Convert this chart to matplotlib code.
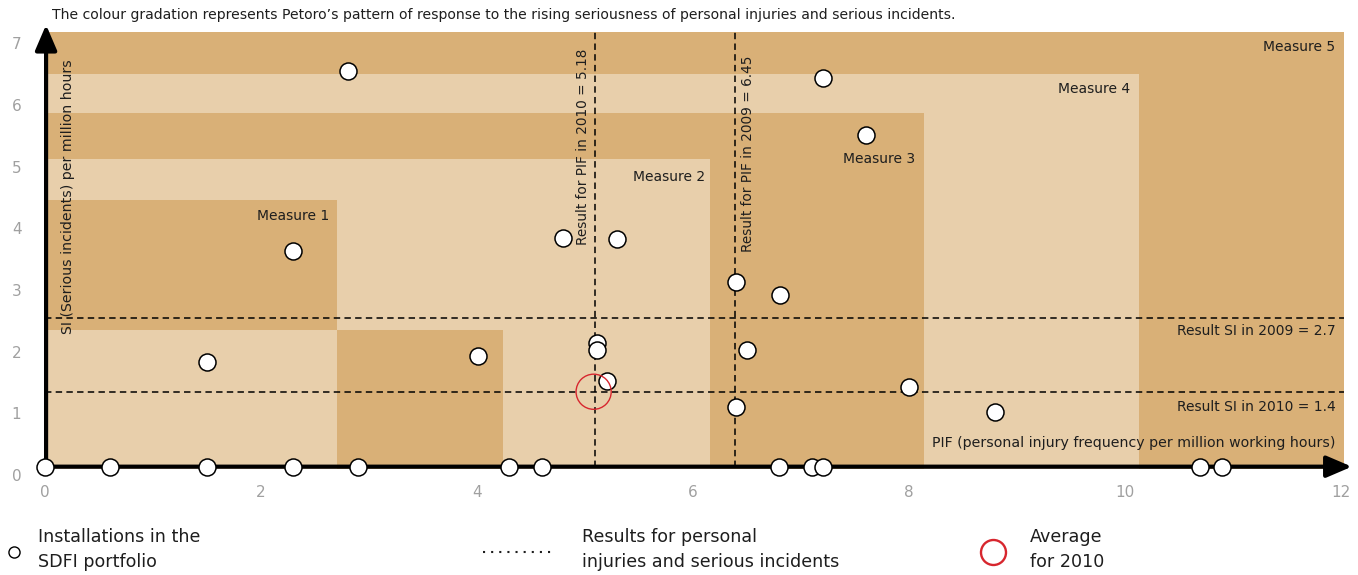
import numpy as np
import matplotlib
matplotlib.use("Agg")
import matplotlib.pyplot as plt
from matplotlib.patches import Rectangle
from matplotlib.lines import Line2D

# installations in the SDFI portfolio (PIF, SI)
pif = [2.81, 7.20, 7.60, 2.30, 4.80, 5.30, 6.40, 6.81, 1.50, 4.01, 5.11, 5.11,
       5.20, 6.50, 8.00, 6.40, 8.80,
       0.0, 0.6, 1.5, 2.3, 2.9, 4.3, 4.6, 6.8, 7.1, 7.2, 10.69, 10.9]
si = [6.55, 6.43, 5.52, 3.63, 3.84, 3.83, 3.13, 2.92, 1.83, 1.93, 2.14, 2.02,
      1.53, 2.02, 1.43, 1.11, 1.02,
      0, 0, 0, 0, 0, 0, 0, 0, 0, 0, 0, 0]

avg_pif = 5.08
avg_si = 1.35

# result lines
pif_results = [5.09, 6.39]
pif_result_labels = ["Result for PIF in 2010 = 5.18", "Result for PIF in 2009 = 6.45"]
si_results = [2.55, 1.35]
si_result_labels = ["Result SI in 2009 = 2.7", "Result SI in 2010 = 1.4"]

# measure zones (pif_from, pif_to, si_from, si_to, shade)
zone_pif_from = [0, 0, 0, 0, 0, 2.70]
zone_pif_to = [12.03, 10.13, 8.14, 6.16, 2.70, 4.24]
zone_si_from = [0.09, 0.09, 0.09, 0.09, 2.35, 0.09]
zone_si_to = [7.19, 6.50, 5.87, 5.12, 4.46, 2.35]
zone_dark = [True, False, True, False, True, True]

DARK = "#d9b077"
LIGHT = "#e8cfab"
AXIS_Y = 0.135
TEXT = "#1e1e1e"

W, H = 1358, 575
fig = plt.figure(figsize=(W / 100, H / 100), dpi=100)
ax = fig.add_axes([45 / W, 100 / H, 12.1 * 108 / W, 7.35 * 61.67 / H])
ax.set_xlim(0, 12.1)
ax.set_ylim(0, 7.35)
for s in ax.spines.values():
    s.set_visible(False)

for x0, x1, y0, y1, dk in zip(zone_pif_from, zone_pif_to, zone_si_from, zone_si_to, zone_dark):
    ax.add_patch(Rectangle((x0, y0), x1 - x0, y1 - y0, facecolor=DARK if dk else LIGHT,
                           edgecolor="none", zorder=0))

dash = (0, (4.2, 2.8))
ax.vlines(pif_results, AXIS_Y, zone_si_to[0], colors="black", linewidth=1.1, linestyles=[dash], zorder=2)
ax.hlines(si_results, 0, zone_pif_to[0], colors="black", linewidth=1.1, linestyles=[dash], zorder=2)

# axes with arrows
ax.annotate("", xy=(12.1, AXIS_Y), xytext=(0, AXIS_Y), annotation_clip=False,
            arrowprops=dict(arrowstyle="-|>,head_length=0.7,head_width=0.3", lw=3,
                            color="black", shrinkA=0, shrinkB=0, mutation_scale=22), zorder=3)
ax.annotate("", xy=(0.01, 7.30), xytext=(0.01, 0.06), annotation_clip=False,
            arrowprops=dict(arrowstyle="-|>,head_length=0.7,head_width=0.3", lw=3,
                            color="black", shrinkA=0, shrinkB=0, mutation_scale=22), zorder=3)

y_plot = np.where(np.array(si) == 0, AXIS_Y, si)
ax.scatter(pif, y_plot, s=150, facecolor="white", edgecolor="black", linewidth=1.1,
           zorder=5, clip_on=False)
ax.scatter([avg_pif], [avg_si], s=640, facecolor="none", edgecolor="#d7262e",
           linewidth=1.0, zorder=6)

ax.set_xticks(range(0, 13, 2))
ax.set_yticks(range(0, 8))
ax.tick_params(length=0, labelsize=11, labelcolor="#a0a0a0")
ax.tick_params(axis="x", pad=7)
ax.tick_params(axis="y", pad=17)

# measure labels
ax.text(11.95, 6.94, "Measure 5", ha="right", va="center", fontsize=10, color=TEXT, zorder=4)
ax.text(10.05, 6.26, "Measure 4", ha="right", va="center", fontsize=10, color=TEXT, zorder=4)
ax.text(8.06, 5.12, "Measure 3", ha="right", va="center", fontsize=10, color=TEXT, zorder=4)
ax.text(6.11, 4.83, "Measure 2", ha="right", va="center", fontsize=10, color=TEXT, zorder=4)
ax.text(2.63, 4.20, "Measure 1", ha="right", va="center", fontsize=10, color=TEXT, zorder=4)

ax.text(11.95, 2.34, si_result_labels[0], ha="right", va="center", fontsize=10, color=TEXT, zorder=4)
ax.text(11.95, 1.10, si_result_labels[1], ha="right", va="center", fontsize=10, color=TEXT, zorder=4)
ax.text(11.95, 0.52, "PIF (personal injury frequency per million working hours)",
        ha="right", va="center", fontsize=10.2, color=TEXT, zorder=4)

ax.text(4.98, 3.73, pif_result_labels[0], rotation=90, ha="center", va="bottom",
        fontsize=9.8, color=TEXT, zorder=4)
ax.text(6.51, 3.62, pif_result_labels[1], rotation=90, ha="center", va="bottom",
        fontsize=9.8, color=TEXT, zorder=4)
ax.text(0.21, 2.29, "SI (Serious incidents) per million hours", rotation=90,
        ha="center", va="bottom", fontsize=10.2, color=TEXT, zorder=4)

fig.text(52 / W, 1 - 15 / H,
         "The colour gradation represents Petoro\u2019s pattern of response to the rising "
         "seriousness of personal injuries and serious incidents.",
         ha="left", va="center", fontsize=10.1, color=TEXT)

# legend
fig.add_artist(Line2D([14 / W], [1 - 552 / H], marker="o", markersize=8, markerfacecolor="white",
                      markeredgecolor="black", markeredgewidth=1.0, linestyle="none"))
fig.add_artist(Line2D([483 / W, 553 / W], [1 - 552 / H, 1 - 552 / H], color=TEXT,
                      linewidth=1.5, linestyle=(0, (1, 2.9))))
fig.add_artist(Line2D([993 / W], [1 - 552 / H], marker="o", markersize=18, markerfacecolor="none",
                      markeredgecolor="#d7262e", markeredgewidth=1.7, linestyle="none"))

legend_lines = [
    (38, ["Installations in the", "SDFI portfolio"]),
    (582, ["Results for personal", "injuries and serious incidents"]),
    (1030, ["Average", "for 2010"]),
]
for x, lines in legend_lines:
    fig.text(x / W, 1 - 542 / H, lines[0], ha="left", va="baseline", fontsize=12.6, color=TEXT)
    fig.text(x / W, 1 - 567 / H, lines[1], ha="left", va="baseline", fontsize=12.6, color=TEXT)

fig.savefig("out.png", dpi=100)
